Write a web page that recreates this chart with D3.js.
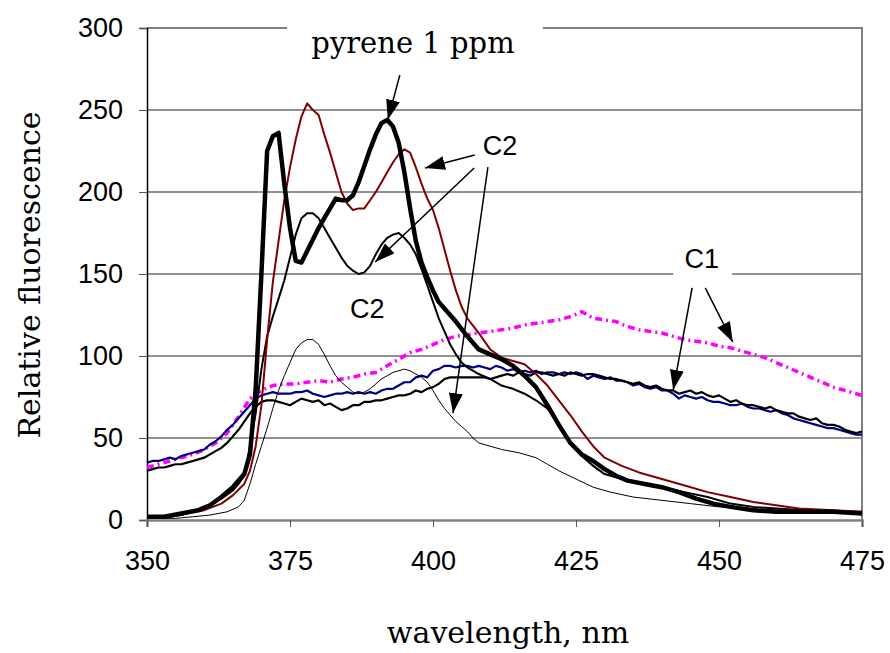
<!DOCTYPE html>
<html>
<head>
<meta charset="utf-8">
<script src="https://cdn.jsdelivr.net/npm/d3@7"></script>
<style>
  body { margin: 0; background: #fff; }
  svg { display: block; }
</style>
</head>
<body>
<div id="chart"></div>
<script>
// wavelength (nm), relative fluorescence pairs
const pyrene = [[350,2],[353,2],[356,4],[359,6],[361,9],[363,14],[365,20],[367,28],[368,40],[369,80],[370,150],[371,225],[372,234],[373,236],[374,205],[375,178],[376,158],[377,157],[378,164],[379,171],[380,178],[381,184],[382,190],[383,196],[384,195],[385,195],[386,198],[387,206],[388,216],[389,226],[390,235],[391,242],[392,244],[393,240],[394,230],[395,212],[396,190],[397,170],[398,157],[399,148],[400,140],[401,133],[402,129],[404,121],[406,112],[408,104],[410,101],[412,98],[414,94],[416,88],[418,81],[420,70],[422,58],[424,47],[426,40],[428,36],[430,31],[432,27],[434,24],[437,22],[440,20],[443,17],[446,13],[449,10],[452,8],[456,6],[460,5],[465,5],[470,5],[475,4]];

const c2Red = [[350,2],[354,2],[357,4],[360,6],[363,10],[365,15],[367,22],[368,30],[369,45],[370,70],[371,110],[372,145],[373,170],[374,195],[375,215],[376,232],[377,246],[378,254],[379,250],[380,247],[381,235],[382,224],[383,212],[384,200],[385,193],[386,189],[387,190],[388,190],[389,195],[390,200],[391,206],[392,212],[393,218],[394,223],[395,226],[396,224],[397,215],[398,205],[399,196],[400,189],[401,178],[402,165],[403,152],[404,140],[405,130],[406,123],[408,114],[410,104],[412,99],[414,97],[416,95],[418,89],[420,82],[422,73],[424,64],[426,54],[428,45],[430,38],[433,33],[436,29],[440,25],[444,21],[448,17],[452,14],[456,11],[460,9],[464,7],[470,6],[475,5]];

const c2Black = [[350,2],[353,2],[356,3],[359,6],[361,9],[363,13],[365,18],[366,22],[367,27],[368,45],[369,65],[370,92],[371,112],[372,124],[373,135],[374,146],[375,160],[376,174],[377,184],[378,187],[379,187],[380,184],[381,178],[382,172],[383,166],[384,160],[385,155],[386,152],[387,150],[388,151],[389,155],[390,162],[391,168],[392,172],[393,174],[394,175],[395,172],[396,168],[397,162],[398,153],[399,143],[400,133],[401,123],[402,115],[403,107],[404,101],[405,96],[406,93],[408,89],[410,86],[412,82],[414,80],[416,77],[418,73],[420,68],[422,58],[424,47],[426,39],[428,33],[430,28],[433,25],[436,23],[440,20],[444,17],[448,14],[452,10],[456,8],[460,7],[465,6],[470,5],[475,5]];

const c2Thin = [[350,1],[355,1],[358,2],[361,3],[364,5],[366,8],[367,12],[368,22],[369,34],[370,45],[371,56],[372,68],[373,79],[374,88],[375,96],[376,104],[377,108],[378,110],[379,110],[380,107],[381,101],[382,94],[383,88],[384,84],[385,81],[386,78],[387,77],[388,78],[389,80],[390,83],[391,86],[392,88],[393,90],[394,91],[395,92],[396,91],[397,89],[398,87],[399,84],[400,79],[401,73],[402,68],[403,64],[404,60],[405,57],[406,54],[407,50],[408,47],[410,45],[412,43],[415,41],[418,38],[420,34],[422,30],[425,25],[428,20],[431,17],[435,14],[440,12],[445,10],[450,8],[455,7],[460,6],[465,5],[470,4],[475,4]];

const c1Blue = [[350,35],[351,36],[352,36],[353,37],[354,38],[355,37],[356,39],[357,40],[358,41],[359,42],[360,43],[361,46],[362,48],[363,51],[364,55],[365,58],[366,62],[367,66],[368,70],[369,74],[370,76],[371,77],[372,78],[373,77],[374,77],[375,77],[376,78],[377,78],[378,79],[379,77],[380,76],[381,75],[382,76],[383,77],[384,77],[385,78],[386,77],[387,78],[388,77],[389,78],[390,77],[391,79],[392,80],[393,80],[394,82],[395,84],[396,84],[397,87],[398,88],[399,87],[400,91],[401,92],[402,94],[403,94],[404,93],[405,94],[406,94],[407,93],[408,94],[409,93],[410,92],[411,94],[412,93],[413,91],[414,92],[415,90],[416,91],[417,90],[418,91],[419,89],[420,90],[421,90],[422,89],[423,90],[424,89],[425,90],[426,89],[427,86],[428,88],[429,87],[430,86],[431,87],[432,85],[433,85],[434,84],[435,82],[436,83],[437,81],[438,80],[439,81],[440,79],[441,79],[442,77],[443,74],[444,76],[445,75],[446,74],[447,75],[448,73],[449,72],[450,72],[451,71],[452,70],[453,70],[454,71],[455,69],[456,68],[457,68],[458,67],[459,66],[460,67],[461,65],[462,64],[463,62],[464,61],[465,60],[466,59],[467,58],[468,57],[469,56],[470,56],[471,55],[472,54],[473,53],[474,52],[475,52]];

const c1Black = [[350,30],[351,31],[352,32],[353,32],[354,33],[355,34],[356,34],[357,35],[358,36],[359,37],[360,38],[361,40],[362,42],[363,44],[364,47],[365,51],[366,55],[367,60],[368,65],[369,69],[370,72],[371,73],[372,73],[373,72],[374,71],[375,70],[376,72],[377,74],[378,73],[379,72],[380,73],[381,70],[382,71],[383,69],[384,67],[385,68],[386,70],[387,70],[388,72],[389,72],[390,73],[391,73],[392,74],[393,75],[394,76],[395,76],[396,77],[397,79],[398,78],[399,80],[400,81],[401,83],[402,86],[403,87],[404,87],[405,87],[406,87],[407,87],[408,87],[409,87],[410,86],[411,87],[412,88],[413,89],[414,88],[415,90],[416,89],[417,88],[418,90],[419,90],[420,89],[421,88],[422,89],[423,88],[424,90],[425,89],[426,88],[427,89],[428,89],[429,88],[430,87],[431,86],[432,86],[433,85],[434,84],[435,83],[436,84],[437,82],[438,81],[439,82],[440,80],[441,79],[442,79],[443,77],[444,78],[445,79],[446,77],[447,78],[448,76],[449,75],[450,76],[451,74],[452,72],[453,73],[454,71],[455,70],[456,70],[457,69],[458,68],[459,69],[460,67],[461,66],[462,65],[463,65],[464,63],[465,62],[466,61],[467,62],[468,59],[469,58],[470,58],[471,57],[472,55],[473,54],[474,53],[475,54]];

const c1Magenta = [[350,32],[352,34],[354,36],[356,38],[358,40],[360,43],[362,47],[364,53],[366,63],[368,74],[370,79],[372,82],[374,83],[376,83],[378,84],[380,85],[382,84],[384,86],[386,87],[388,89],[390,90],[392,94],[394,98],[396,102],[398,104],[400,107],[402,110],[404,112],[406,113],[408,114],[410,115],[412,116],[414,117],[416,119],[418,120],[420,121],[422,122],[424,124],[426,127],[428,123],[430,122],[432,121],[434,118],[436,116],[438,115],[440,114],[442,112],[444,110],[446,109],[448,108],[450,106],[452,105],[454,103],[456,101],[458,99],[460,96],[462,93],[464,90],[466,87],[468,84],[470,81],[472,79],[474,77],[475,76]];

const xTicks = [350, 375, 400, 425, 450, 475];
const yTicks = [0, 50, 100, 150, 200, 250, 300];

// labels and arrows, in data units: [text, wavelength, value]
const labels = [["pyrene 1 ppm", 396.5, 285], ["C2", 411.7, 222.6], ["C2", 388.5, 123.2], ["C1", 447, 153.7]];
// arrows: [fromWl, fromVal, toWl, toVal]
const arrows = [
    [394.2, 271.3, 392.1, 244],
    [407.3, 222.6, 398.6, 214.6],
    [407.2, 214.6, 389.9, 157.3],
    [409.6, 215.2, 403.5, 65.2],
    [445.3, 141.5, 442, 79.3],
    [447.6, 141.5, 452.4, 108.5]
];

const width = 890, height = 653;
const svg = d3.select("#chart").append("svg")
    .attr("width", width)
    .attr("height", height);

const x = d3.scaleLinear().domain([350, 475]).range([147, 862]);
const y = d3.scaleLinear().domain([0, 300]).range([520, 28]);

// gridlines
svg.append("g")
    .selectAll("line")
    .data([50, 100, 150, 200, 250])
    .enter()
    .append("line")
    .attr("x1", x(350)).attr("x2", x(475))
    .attr("y1", d => y(d)).attr("y2", d => y(d))
    .attr("stroke", "#222")
    .attr("stroke-width", 1);

// frame top / right
svg.append("path")
    .attr("d", `M${x(350)},${y(300)}H${x(475)}V${y(0)}`)
    .attr("fill", "none")
    .attr("stroke", "#808080")
    .attr("stroke-width", 2);

const yAxis = svg.append("g")
    .attr("transform", `translate(${x(350)},0)`)
    .call(d3.axisLeft(y).tickValues(yTicks).tickSize(8).tickPadding(16));
yAxis.select(".domain").attr("stroke", "#000").attr("stroke-width", 1.5);
yAxis.selectAll(".tick line").attr("stroke", "#555");
yAxis.selectAll("text")
    .attr("font-family", "Liberation Sans, Arial, sans-serif")
    .attr("font-size", 27)
    .attr("fill", "#000");

const xAxis = svg.append("g")
    .attr("transform", `translate(0,${y(0)})`)
    .call(d3.axisBottom(x).tickValues(xTicks).tickSize(7).tickPadding(24));
xAxis.select(".domain").attr("stroke", "#808080").attr("stroke-width", 2.5);
xAxis.selectAll(".tick line").attr("stroke", "#555");
xAxis.selectAll("text")
    .attr("font-family", "Liberation Sans, Arial, sans-serif")
    .attr("font-size", 27)
    .attr("fill", "#000");

const line = d3.line()
    .x(d => x(d[0]))
    .y(d => y(d[1]));

const series = [
    { data: c1Magenta, color: "#ff00ff", w: 3.5, dash: "7,4,2,4" },
    { data: c1Blue, color: "#000080", w: 2.2 },
    { data: c1Black, color: "#000", w: 2.2 },
    { data: c2Thin, color: "#000", w: 1 },
    { data: c2Black, color: "#000", w: 2 },
    { data: c2Red, color: "#800000", w: 2 },
    { data: pyrene, color: "#000", w: 4.5 }
];

svg.append("g")
    .selectAll("path")
    .data(series)
    .enter()
    .append("path")
    .attr("d", d => line(d.data))
    .attr("fill", "none")
    .attr("stroke", d => d.color)
    .attr("stroke-width", d => d.w)
    .attr("stroke-dasharray", d => d.dash || null)
    .attr("stroke-linejoin", "round");

// white boxes behind the labels that cut the frame / gridlines
svg.append("rect")
    .attr("x", x(374.5)).attr("y", 12)
    .attr("width", x(419.2) - x(374.5)).attr("height", 30)
    .attr("fill", "#fff");
svg.append("rect")
    .attr("x", x(442)).attr("y", 240)
    .attr("width", x(452.3) - x(442)).attr("height", 44)
    .attr("fill", "#fff");

// arrows
svg.append("defs").append("marker")
    .attr("id", "head")
    .attr("markerUnits", "userSpaceOnUse")
    .attr("viewBox", "0 0 20 14")
    .attr("refX", 20).attr("refY", 7)
    .attr("markerWidth", 20).attr("markerHeight", 14)
    .attr("orient", "auto")
    .append("path")
    .attr("d", "M0,0L20,7L0,14Z")
    .attr("fill", "#000");

svg.append("g")
    .selectAll("line")
    .data(arrows)
    .enter()
    .append("line")
    .attr("x1", d => x(d[0])).attr("y1", d => y(d[1]))
    .attr("x2", d => x(d[2])).attr("y2", d => y(d[3]))
    .attr("stroke", "#000")
    .attr("stroke-width", 1.5)
    .attr("marker-end", "url(#head)");

svg.append("g")
    .selectAll("text")
    .data(labels)
    .enter()
    .append("text")
    .attr("x", d => x(d[1]))
    .attr("y", d => y(d[2]))
    .attr("text-anchor", "middle")
    .attr("font-family", (d, i) => i === 0 ? "DejaVu Serif, serif" : "Liberation Sans, Arial, sans-serif")
    .attr("font-size", (d, i) => i === 0 ? 29 : 27)
    .text(d => d[0]);

// axis titles
svg.append("text")
    .attr("x", 508).attr("y", 643)
    .attr("text-anchor", "middle")
    .attr("font-family", "DejaVu Serif, serif")
    .attr("font-size", 30)
    .text("wavelength, nm");

svg.append("text")
    .attr("transform", "translate(40,275) rotate(-90)")
    .attr("text-anchor", "middle")
    .attr("font-family", "DejaVu Serif, serif")
    .attr("font-size", 30)
    .text("Relative fluorescence");
</script>
</body>
</html>
